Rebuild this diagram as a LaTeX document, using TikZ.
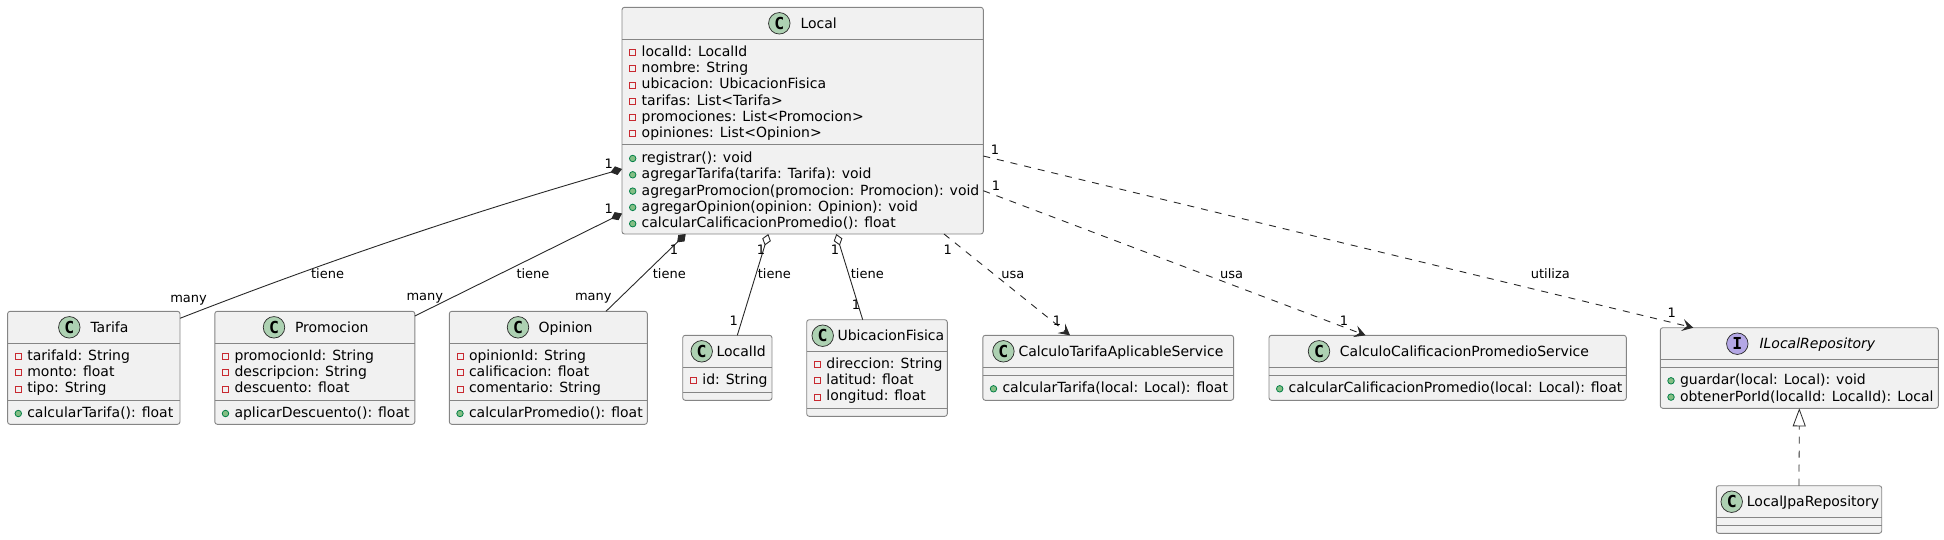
\documentclass[tikz,border=0pt]{standalone}
\usepackage{fontspec}
\setmainfont{DejaVu Sans}
\setmonofont{DejaVu Sans Mono}
\usetikzlibrary{calc,arrows.meta,positioning}
\definecolor{boxfill}{HTML}{F1F1F1}
\definecolor{boxline}{HTML}{858585}
\definecolor{edgeline}{HTML}{282828}
\definecolor{classspot}{HTML}{ADD1B2}
\definecolor{ifacespot}{HTML}{B4A7E5}
\definecolor{attrred}{HTML}{C82930}
\definecolor{methgreen}{HTML}{84BE84}
\definecolor{methline}{HTML}{038048}
\tikzset{
    classbox/.style={
    rectangle,rounded corners=2.5pt,draw=boxline,fill=boxfill,line width=0.9pt,inner sep=0pt,outer sep=0pt
    },
    divider/.style={
    draw=boxline,line width=0.9pt
    },
    spot/.style={
    circle,draw=edgeline,line width=0.7pt,minimum size=21.5pt,inner sep=0pt,font=\fontsize{16.5}{16.5}\ttfamily\bfseries
    },
    title/.style={
    anchor=base west,inner sep=0pt,font=\fontsize{14}{16}\selectfont
    },
    member/.style={
    anchor=base west,inner sep=0pt,font=\fontsize{14}{16}\selectfont
    },
    attricon/.style={
    rectangle,draw=attrred,line width=0.8pt,minimum size=6pt,inner sep=0pt
    },
    methicon/.style={
    circle,draw=methline,fill=methgreen,line width=0.8pt,minimum size=6.5pt,inner sep=0pt
    },
    edgelabel/.style={
    inner sep=0pt,text height=10pt,text depth=0pt,font=\fontsize{13}{15}\selectfont
    },
    composition/.style={
    {Diamond[length=12pt,width=9pt]}-,draw=edgeline,line width=0.9pt
    },
    aggregation/.style={
    {Diamond[open,length=12pt,width=9pt]}-,draw=edgeline,line width=0.9pt
    },
    uses/.style={
    -{Stealth[length=11pt,width=12pt,inset=4.5pt]},draw=edgeline,line width=0.9pt,dash pattern=on 7pt off 7pt
    },
    realizes/.style={
    -{Triangle[open,length=18pt,width=13pt]},draw=edgeline,line width=0.8pt,dash pattern=on 7pt off 7pt
    },
}
\newcommand{\umlbox}[7]{
   \node[classbox,minimum width={(#4-#2)*1pt},minimum height={(#5-#3)*1pt}] (#1) at ({(#2+#4)/2},{(#3+#5)/2}) {};
   \draw[divider] ([yshift={(#3-#6)*1pt}]#1.north west) -- ([yshift={(#3-#6)*1pt}]#1.north east);
   \draw[divider] ([yshift={(#3-#7)*1pt}]#1.north west) -- ([yshift={(#3-#7)*1pt}]#1.north east);
}
\newcommand{\umltitle}[7]{
   \node[spot,fill=#2] (#1-spot) at (#5,{#4+16}) {#3};
   \node[title] (#1-title) at (#6,{#4+21}) {#7};
}
\newcommand{\umlmembers}[5]{
   \foreach \memb [count=\i] in {#5} {
     \node[member] (#1-#2\i) at ({#3+19.5},{#4+(\i-1)*16.3}) {\memb};
     \node[#2] (#1-#2\i-icon) at ({#3+10.7},{#4+(\i-1)*16.3-4}) {};
   }
}

\begin{document}
\begin{tikzpicture}[x=1pt,y=-1pt]
   \useasboundingbox (0,0) rectangle (1944,539);

   \umlbox{Local}{622}{7.3}{983.3}{234}{39.3}{144.7}
   \umltitle{Local}{classspot}{C}{7.3}{779.3}{800.3}{Local}
   \umlmembers{Local}{attricon}{622}{56.3}{localId: LocalId,nombre: String,ubicacion: UbicacionFisica,tarifas: List<Tarifa>,promociones: List<Promocion>,opiniones: List<Opinion>}
   \umlmembers{Local}{methicon}{622}{162.5}{registrar(): void,agregarTarifa(tarifa: Tarifa): void,agregarPromocion(promocion: Promocion): void,agregarOpinion(opinion: Opinion): void,calcularCalificacionPromedio(): float}

   \umlbox{Tarifa}{7.6}{311.3}{180}{424.3}{343.3}{400}
   \umltitle{Tarifa}{classspot}{C}{311.3}{69.3}{90.3}{Tarifa}
   \umlmembers{Tarifa}{attricon}{7.6}{360.3}{tarifaId: String,monto: float,tipo: String}
   \umlmembers{Tarifa}{methicon}{7.6}{417.5}{calcularTarifa(): float}

   \umlbox{Promocion}{214.8}{311.3}{414.8}{424.3}{343.3}{400}
   \umltitle{Promocion}{classspot}{C}{311.3}{274}{294.8}{Promocion}
   \umlmembers{Promocion}{attricon}{214.8}{360.3}{promocionId: String,descripcion: String,descuento: float}
   \umlmembers{Promocion}{methicon}{214.8}{417.5}{aplicarDescuento(): float}

   \umlbox{Opinion}{449.3}{311.3}{647.3}{424.3}{343.3}{400}
   \umltitle{Opinion}{classspot}{C}{311.3}{518}{538.4}{Opinion}
   \umlmembers{Opinion}{attricon}{449.3}{360.3}{opinionId: String,calificacion: float,comentario: String}
   \umlmembers{Opinion}{methicon}{449.3}{417.5}{calcularPromedio(): float}

   \umlbox{LocalId}{682.7}{335.3}{772}{400.3}{367.3}{392.3}
   \umltitle{LocalId}{classspot}{C}{335.3}{701.7}{716.3}{LocalId}
   \umlmembers{LocalId}{attricon}{682.7}{384.3}{id: String}

   \umlbox{UbicacionFisica}{806.7}{319.7}{947.3}{416.3}{351.3}{408.3}
   \umltitle{UbicacionFisica}{classspot}{C}{319.7}{822.7}{837.3}{UbicacionFisica}
   \umlmembers{UbicacionFisica}{attricon}{806.7}{368.3}{direccion: String,latitud: float,longitud: float}

   \umlbox{CalculoTarifa}{982.8}{335.3}{1233.6}{400.3}{367.3}{375.3}
   \umltitle{CalculoTarifa}{classspot}{C}{335.3}{1003.4}{1018.3}{CalculoTarifaAplicableService}
   \umlmembers{CalculoTarifa}{methicon}{982.8}{392.8}{calcularTarifa(local: Local): float}

   \umlbox{CalculoCalif}{1269}{335.3}{1626.3}{400.3}{367.3}{375.3}
   \umltitle{CalculoCalif}{classspot}{C}{335.3}{1319}{1339.7}{CalculoCalificacionPromedioService}
   \umlmembers{CalculoCalif}{methicon}{1269}{392.8}{calcularCalificacionPromedio(local: Local): float}

   \umlbox{ILocalRepository}{1660.3}{327.7}{1938.3}{408.3}{359.3}{367.3}
   \umltitle{ILocalRepository}{ifacespot}{I}{327.7}{1737.3}{1759.3}{\itshape ILocalRepository}
   \umlmembers{ILocalRepository}{methicon}{1660.3}{384.8}{guardar(local: Local): void,obtenerPorId(localId: LocalId): Local}

   \umlbox{LocalJpaRepository}{1716.3}{485.7}{1881.7}{533.3}{517.3}{525.3}
   \umltitle{LocalJpaRepository}{classspot}{C}{485.7}{1731.7}{1746.7}{LocalJpaRepository}

   \draw[composition] ([yshift=-161.7]Local.north west) .. controls (470,212.8) and (330,259.8) .. ([yshift=-7]Tarifa.north east);
   \draw[composition] ([yshift=-206.2]Local.north west) -- ([yshift=-4.7]Promocion.north east);
   \draw[composition] ([xshift=63.7]Local.south west) -- ([xshift=156.7]Opinion.north west);
   \draw[aggregation] ([xshift=146.3]Local.south west) -- ([xshift=54.6]LocalId.north west);
   \draw[aggregation] ([xshift=214.3]Local.south west) -- ([xshift=56]UbicacionFisica.north west);
   \draw[uses] ([xshift=-39.3]Local.south east) -- ([xshift=87.2]CalculoTarifa.north west);
   \draw[uses] ([yshift=-183.4]Local.north east) -- ([xshift=96.5]CalculoCalif.north west);
   \draw[uses] ([yshift=-148.7]Local.north east) -- ([xshift=33]ILocalRepository.north west);
   \draw[realizes] (LocalJpaRepository.north) -- (ILocalRepository.south);

   \node[edgelabel] (l1) at (608.7,163.3) {1};
   \node[edgelabel] (l2) at (608.7,208.3) {1};
   \node[edgelabel] (l3) at (674,249.3) {1};
   \node[edgelabel] (l4) at (761,249.3) {1};
   \node[edgelabel] (l5) at (733.7,320.7) {1};
   \node[edgelabel] (l6) at (835,249.3) {1};
   \node[edgelabel] (l7) at (856,304) {1};
   \node[edgelabel] (l8) at (947.7,249.3) {1};
   \node[edgelabel] (l9) at (1057,320.7) {1};
   \node[edgelabel] (l10) at (996,185.3) {1};
   \node[edgelabel] (l11) at (1344,320.7) {1};
   \node[edgelabel] (l12) at (995,149.7) {1};
   \node[edgelabel] (l13) at (1671.7,312.3) {1};
   \node[edgelabel] (m1) at (188.6,297.5) {many};
   \node[edgelabel] (m2) at (424.8,295.5) {many};
   \node[edgelabel] (m3) at (593.3,295.5) {many};
   \node[edgelabel] (t1) at (327.6,273.5) {tiene};
   \node[edgelabel] (t2) at (533,273.5) {tiene};
   \node[edgelabel] (t3) at (669.3,273.5) {tiene};
   \node[edgelabel] (t4) at (774.3,273.5) {tiene};
   \node[edgelabel] (t5) at (867.3,273.5) {tiene};
   \node[edgelabel] (u1) at (1012.8,273.5) {usa};
   \node[edgelabel] (u2) at (1231.7,273.5) {usa};
   \node[edgelabel] (u3) at (1550.3,273.5) {utiliza};
\end{tikzpicture}
\end{document}
